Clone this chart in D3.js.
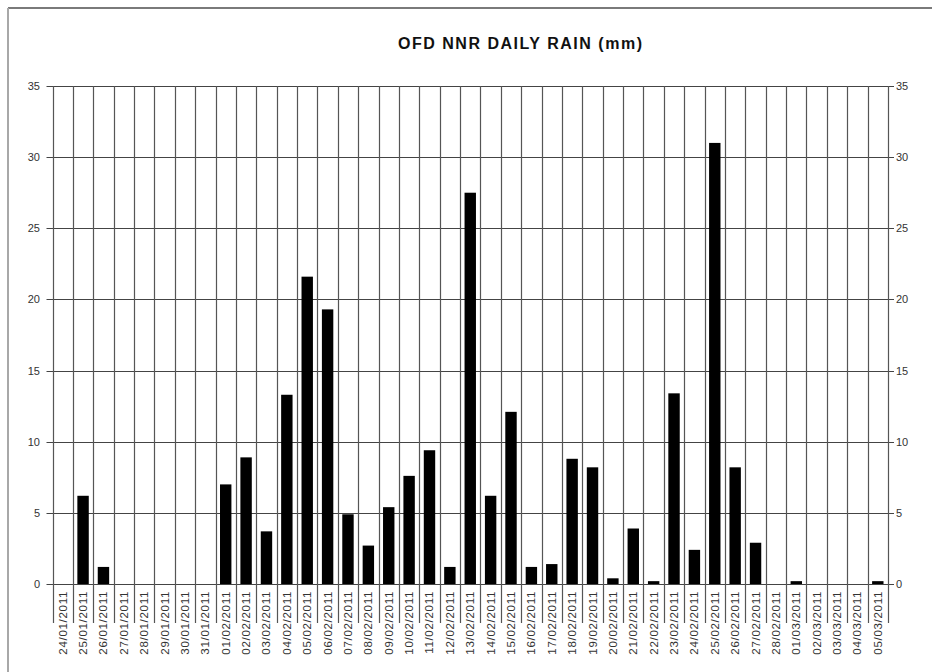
<!DOCTYPE html>
<html>
<head>
  <title>OFD NNR Daily Rain</title>
  <script src="https://d3js.org/d3.v7.min.js"></script>
  <style>
    body { margin: 0; background: #fff; }
    svg { display: block; font-family: "Liberation Sans", Arial, sans-serif; }
    .tick-label { font-size: 11px; fill: #333; }
    .date-label { font-size: 11.5px; fill: #333; letter-spacing: 0.7px; }
  </style>
</head>
<body>
<div id="chart"></div>
<script>
// chart data
var dates = [
  "24/01/2011", "25/01/2011", "26/01/2011", "27/01/2011", "28/01/2011", "29/01/2011",
  "30/01/2011", "31/01/2011", "01/02/2011", "02/02/2011", "03/02/2011", "04/02/2011",
  "05/02/2011", "06/02/2011", "07/02/2011", "08/02/2011", "09/02/2011", "10/02/2011",
  "11/02/2011", "12/02/2011", "13/02/2011", "14/02/2011", "15/02/2011", "16/02/2011",
  "17/02/2011", "18/02/2011", "19/02/2011", "20/02/2011", "21/02/2011", "22/02/2011",
  "23/02/2011", "24/02/2011", "25/02/2011", "26/02/2011", "27/02/2011", "28/02/2011",
  "01/03/2011", "02/03/2011", "03/03/2011", "04/03/2011", "05/03/2011"
];
var rain = [
  0, 6.2, 1.2, 0, 0, 0,
  0, 0, 7.0, 8.9, 3.7, 13.3,
  21.6, 19.3, 4.9, 2.7, 5.4, 7.6,
  9.4, 1.2, 27.5, 6.2, 12.1, 1.2,
  1.4, 8.8, 8.2, 0.4, 3.9, 0.2,
  13.4, 2.4, 31.0, 8.2, 2.9, 0,
  0.2, 0, 0, 0, 0.2
];
var yTicks = [0, 5, 10, 15, 20, 25, 30, 35];
var title = "OFD NNR DAILY RAIN (mm)";

var W = 932, H = 672;
var plotL = 52.5, plotR = 888, plotT = 86, plotB = 584;

var svg = d3.select("#chart").append("svg")
  .attr("width", W)
  .attr("height", H);

// outer chart frame
svg.append("line").attr("x1", 8).attr("x2", W).attr("y1", 8).attr("y2", 8)
  .attr("stroke", "#7a7a7a").attr("stroke-width", 2);
svg.append("line").attr("x1", 8).attr("x2", 8).attr("y1", 8).attr("y2", H)
  .attr("stroke", "#a8a8a8").attr("stroke-width", 2);

var x = d3.scaleBand().domain(dates).range([plotL, plotR]).padding(0);
var xBar = d3.scaleBand().domain(dates).range([plotL, plotR])
  .paddingInner(0.44).paddingOuter(0.22);
var y = d3.scaleLinear().domain([0, 35]).range([plotB, plotT]);

// horizontal grid + ticks both sides
svg.append("g")
  .selectAll("line")
  .data(yTicks)
  .join("line")
  .attr("x1", plotL - 6)
  .attr("x2", plotR + 6)
  .attr("y1", d => Math.round(y(d)) + 0.5)
  .attr("y2", d => Math.round(y(d)) + 0.5)
  .attr("stroke", "#444")
  .attr("stroke-width", 1);

// vertical grid at category boundaries, extended below axis as tick marks
var bounds = dates.map(d => x(d)).concat([plotR]);
svg.append("g")
  .selectAll("line")
  .data(bounds)
  .join("line")
  .attr("x1", d => Math.round(d) + 0.5)
  .attr("x2", d => Math.round(d) + 0.5)
  .attr("y1", plotT)
  .attr("y2", 623)
  .attr("stroke", "#555")
  .attr("stroke-width", 1.2);

// bars
svg.append("g")
  .selectAll("rect")
  .data(dates)
  .join("rect")
  .attr("x", d => xBar(d))
  .attr("width", xBar.bandwidth())
  .attr("y", (d, i) => y(rain[i]))
  .attr("height", (d, i) => y(0) - y(rain[i]))
  .attr("fill", "#000");

// y labels left
svg.append("g")
  .selectAll("text")
  .data(yTicks)
  .join("text")
  .attr("class", "tick-label")
  .attr("x", 40)
  .attr("y", d => y(d) + 4)
  .attr("text-anchor", "end")
  .text(d => d);

// y labels right
svg.append("g")
  .selectAll("text")
  .data(yTicks)
  .join("text")
  .attr("class", "tick-label")
  .attr("x", 896)
  .attr("y", d => y(d) + 4)
  .attr("text-anchor", "start")
  .text(d => d);

// date labels, rotated
svg.append("g")
  .selectAll("text")
  .data(dates)
  .join("text")
  .attr("class", "date-label")
  .attr("transform", d => "translate(" + (x(d) + x.bandwidth() / 2 + 4) + "," + 591 + ") rotate(-90)")
  .attr("text-anchor", "end")
  .text(d => d);

// title
svg.append("text")
  .attr("x", 520)
  .attr("y", 49)
  .attr("text-anchor", "middle")
  .attr("font-size", "16px")
  .attr("font-weight", "bold")
  .attr("fill", "#111")
  .attr("textLength", 244)
  .attr("lengthAdjust", "spacing")
  .text(title);
</script>
</body>
</html>
